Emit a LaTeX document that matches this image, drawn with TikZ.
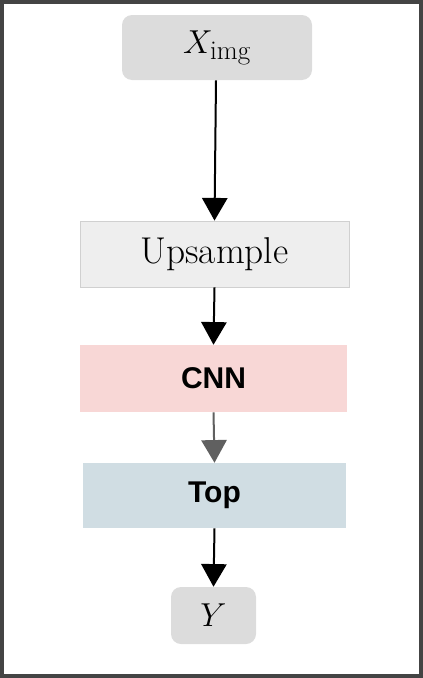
\documentclass[tikz,border=0pt]{standalone}
\usepackage{fontspec}
\newfontfamily\labelsans{Liberation Sans}
\usetikzlibrary{arrows.meta}

\definecolor{inputgray}{RGB}{220,220,220}
\definecolor{upsgray}{RGB}{238,238,238}
\definecolor{cnnpink}{RGB}{248,215,214}
\definecolor{topblue}{RGB}{208,221,227}
\definecolor{framegray}{RGB}{68,68,68}

\tikzset{
	io/.style={fill=inputgray, rounded corners=7.5pt, inner sep=0pt, font=\fontsize{29}{34}\selectfont},
	block/.style={inner sep=0pt, minimum width=200pt, minimum height=49.5pt},
	sanslabel/.style={font=\labelsans\bfseries\fontsize{22.5}{26}\selectfont},
	flow/.style={line width=1.5pt, -{Triangle[width=19pt,length=17pt]}}
}

\begin{document}
\begin{tikzpicture}[x=0.75pt,y=0.75pt,yscale=-1,xscale=1]
	\useasboundingbox (0,0) rectangle (423,678);
	% outer frame
	\draw [framegray, line width=3pt] (2,2) rectangle (421,676);

	% Nodes
	\node [io, minimum width=142.5pt, minimum height=48.75pt] (ximg) at (217,47.5) {$X_{\scriptstyle\mathrm{img}}$};
	\node [block, fill=upsgray, draw={rgb, 255:red, 208; green, 208; blue, 208}, line width=0.6pt, minimum width=201.75pt, font=\fontsize{28}{32}\selectfont] (ups) at (214.5,254) {Upsample};
	\node [block, fill=cnnpink, minimum width=200.25pt, minimum height=50.25pt, sanslabel] (cnn) at (213.5,378.5) {CNN};
	\node [block, fill=topblue, minimum width=197.25pt, minimum height=48.75pt, sanslabel] (top) at (214.5,495.5) {Top};
	\node [io, minimum width=63.75pt, minimum height=42.75pt] (out) at (213.5,615.5) {$Y$};

	% Arrows
	\draw [flow] ([xshift=-0.75pt]ximg.south) -- (ups.north);
	\draw [flow] (ups.south) -- (cnn.north);
	\draw [flow, draw={rgb, 255:red, 96; green, 96; blue, 96}, fill={rgb, 255:red, 96; green, 96; blue, 96}] (cnn.south) -- (top.north);
	\draw [flow] (top.south) -- (out.north);
\end{tikzpicture}
\end{document}
